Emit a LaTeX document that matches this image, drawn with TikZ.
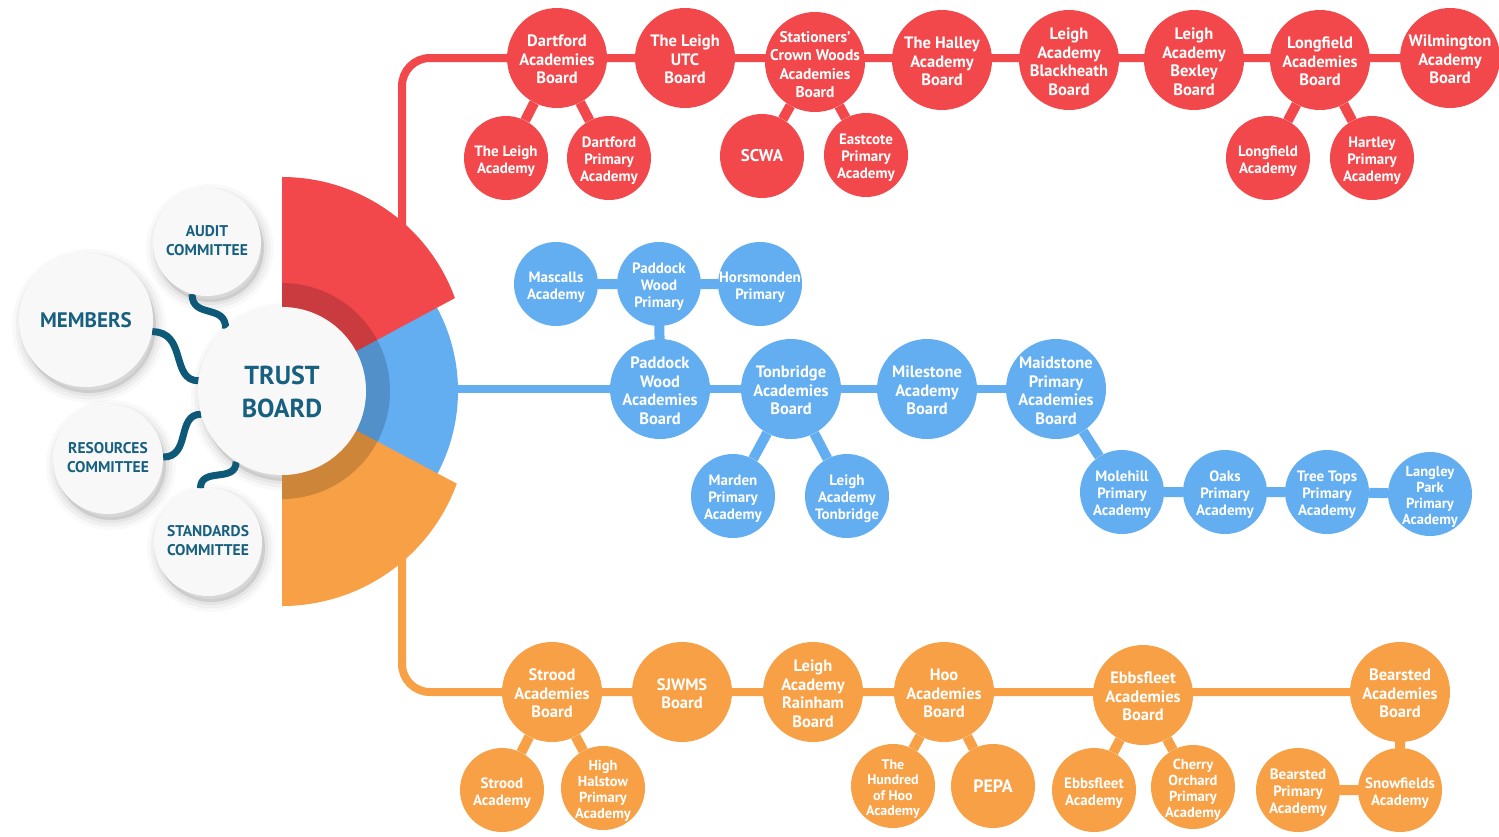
\documentclass[tikz,border=0pt]{standalone}
\usepackage{fontspec}
\setmainfont{PT Sans}
\usetikzlibrary{backgrounds}
\definecolor{cred}{HTML}{F2484B}
\definecolor{cblue}{HTML}{62AEF1}
\definecolor{corange}{HTML}{F7A046}
\definecolor{tealtext}{HTML}{17607F}
\definecolor{tealline}{HTML}{0E5878}
\definecolor{cwhite}{HTML}{F8F8F8}
\newcommand\clab[2][8pt]{\makebox[0pt]{\raisebox{-#1}[0pt][0pt]{\begin{tabular}{@{}c@{}}#2\end{tabular}}}}
\newcommand\cclab[1]{\makebox[0pt]{\begin{tabular}{@{}c@{}}#1\end{tabular}}}
\newcommand\softshadow[2]{%
  \foreach \w/\o in {20/0.025,13/0.035,6/0.045}{\draw[line width=\w, black, opacity=\o] ([shift={(3,6)}]#1.center) circle (#2);}
  \fill[black, opacity=0.10] ([shift={(3,6)}]#1.center) circle (#2);}
\begin{document}
\begin{tikzpicture}[x=1pt,y=-1pt,
  big/.style={circle, inner sep=0pt, minimum size=100, text=white, font=\bfseries\fontsize{16.5}{18.5}\selectfont},
  small/.style={circle, inner sep=0pt, minimum size=84, text=white, font=\bfseries\fontsize{15}{17}\selectfont},
  tiny/.style={circle, inner sep=0pt, minimum size=84, text=white, font=\bfseries\fontsize{14.5}{16}\selectfont},
  rn/.style={fill=cred}, bn/.style={fill=cblue}, on/.style={fill=corange},
  trunk/.style={line width=8},
  link/.style={line width=10},
  committee/.style={circle, inner sep=0pt, fill=cwhite, text=tealtext, font=\bfseries\fontsize{15.5}{19.5}\selectfont},
  wave/.style={line width=7, tealline}
]
\useasboundingbox (0,0) rectangle (1499,836);
% sectors
\fill[cblue] (282,391) -- ++(-32:176) arc[start angle=-32, end angle=34, radius=176] -- cycle;
\fill[cred] (282,391) -- (282,177) arc[start angle=-90, end angle=-20, radius=184] -- cycle;
\fill[corange] (282,391) -- (282,606) arc[start angle=90, end angle=20, radius=186] -- cycle;
\fill[black, opacity=0.17] (282,283) arc[start angle=-90, end angle=90, radius=108] -- (282,475) arc[start angle=90, end angle=-90, radius=84] -- cycle;

% committees
\node[committee, minimum size=134, font=\bfseries\fontsize{21}{24}\selectfont] (mem) at (86,320) {MEMBERS};
\node[committee, minimum size=108] (aud) at (207,242) {\cclab{AUDIT\\COMMITTEE}};
\node[committee, minimum size=110] (res) at (108,459) {\cclab{RESOURCES\\COMMITTEE}};
\node[committee, minimum size=108] (std) at (208,542) {\cclab{STANDARDS\\COMMITTEE}};
\node[committee, minimum size=168, font=\bfseries\fontsize{26}{33}\selectfont] (tb) at (282,391) {\clab[10pt]{TRUST\\BOARD}};

% red
\node[big, rn] (dab) at (557,58) {\clab{Dartford\\Academies\\Board}};
\node[big, rn] (tlu) at (685,58) {\clab{The Leigh\\UTC\\Board}};
\node[big, rn, font=\bfseries\fontsize{15.5}{18.5}\selectfont] (scw) at (815,62) {\clab{Stationers’\\Crown Woods\\Academies\\Board}};
\node[big, rn] (thab) at (942,60) {\clab{The Halley\\Academy\\Board}};
\node[big, rn] (lab) at (1069,60) {\clab{Leigh\\Academy\\Blackheath\\Board}};
\node[big, rn] (lbx) at (1194,60) {\clab{Leigh\\Academy\\Bexley\\Board}};
\node[big, rn] (lfb) at (1320,60) {\clab{Longfield\\Academies\\Board}};
\node[big, rn] (wab) at (1450,58) {\clab{Wilmington\\Academy\\Board}};
\node[small, rn] (tla) at (506,158) {\clab[7pt]{The Leigh\\Academy}};
\node[small, rn] (dpa) at (609,158) {\clab[7pt]{Dartford\\Primary\\Academy}};
\node[small, rn, font=\bfseries\fontsize{17}{19}\selectfont] (scwa) at (762,156) {SCWA};
\node[small, rn] (eca) at (866,155) {\clab[7pt]{Eastcote\\Primary\\Academy}};
\node[small, rn] (lfa) at (1268,158) {\clab[7pt]{Longfield\\Academy}};
\node[small, rn] (hpa) at (1372,158) {\clab[7pt]{Hartley\\Primary\\Academy}};

% blue
\node[small, bn] (mas) at (556,284) {\clab[7pt]{Mascalls\\Academy}};
\node[small, bn] (pwp) at (659,284) {\clab[7pt]{Paddock\\Wood\\Primary}};
\node[small, bn] (hor) at (760,284) {\clab[7pt]{Horsmonden\\Primary}};
\node[big, bn] (pwab) at (660,389) {\clab{Paddock\\Wood\\Academies\\Board}};
\node[big, bn] (tab) at (791,389) {\clab{Tonbridge\\Academies\\Board}};
\node[big, bn] (msb) at (927,389) {\clab{Milestone\\Academy\\Board}};
\node[big, bn] (mpab) at (1056,389) {\clab{Maidstone\\Primary\\Academies\\Board}};
\node[small, bn] (mar) at (733,496) {\clab[7pt]{Marden\\Primary\\Academy}};
\node[small, bn] (lat) at (847,496) {\clab[7pt]{Leigh\\Academy\\Tonbridge}};
\node[small, bn] (mol) at (1122,492) {\clab[7pt]{Molehill\\Primary\\Academy}};
\node[small, bn] (oak) at (1225,492) {\clab[7pt]{Oaks\\Primary\\Academy}};
\node[small, bn] (ttp) at (1327,492) {\clab[7pt]{Tree Tops\\Primary\\Academy}};
\node[tiny, bn] (lpp) at (1430,494) {\clab[7pt]{Langley\\Park\\Primary\\Academy}};

% orange
\node[big, on] (sab) at (552,692) {\clab{Strood\\Academies\\Board}};
\node[big, on] (sjw) at (682,692) {\clab{SJWMS\\Board}};
\node[big, on] (lar) at (813,692) {\clab{Leigh\\Academy\\Rainham\\Board}};
\node[big, on] (hab) at (944,692) {\clab{Hoo\\Academies\\Board}};
\node[big, on] (eab) at (1143,695) {\clab{Ebbsfleet\\Academies\\Board}};
\node[big, on] (bab) at (1400,692) {\clab{Bearsted\\Academies\\Board}};
\node[small, on] (sa) at (502,790) {\clab[7pt]{Strood\\Academy}};
\node[tiny, on] (hh) at (603,788) {\clab[7pt]{High\\Halstow\\Primary\\Academy}};
\node[tiny, on, font=\bfseries\fontsize{14}{15.5}\selectfont] (hoo) at (893,786) {\clab[7pt]{The\\Hundred\\of Hoo\\Academy}};
\node[small, on, font=\bfseries\fontsize{18}{20}\selectfont] (pep) at (993,786) {PEPA};
\node[small, on] (ea) at (1094,790) {\clab[7pt]{Ebbsfleet\\Academy}};
\node[tiny, on] (coa) at (1193,787) {\clab[7pt]{Cherry\\Orchard\\Primary\\Academy}};
\node[small, on] (bpa) at (1298,790) {\clab[7pt]{Bearsted\\Primary\\Academy}};
\node[small, on] (sfa) at (1400,790) {\clab[7pt]{Snowfields\\Academy}};

\begin{scope}[on background layer]
  \fill[white] (0,0) rectangle (1499,836);
  \softshadow{mem}{67}
  \softshadow{aud}{54}
  \softshadow{res}{55}
  \softshadow{std}{54}
  \softshadow{tb}{84}
  % waves
  \draw[wave] (aud.254) .. controls +(0,25) and +(0,-25) .. (tb.132);
  \draw[wave] (mem.-10) .. controls +(35,0) and +(-28,0) .. (tb.173);
  \draw[wave] (res.2) .. controls +(28,0) and +(-25,0) .. (tb.196);
  \draw[wave] (std.98) .. controls +(0,-22) and +(0,22) .. (tb.237);
  % trunks
  \coordinate (rs) at (402,240);
  \coordinate (bs) at (420,389);
  \coordinate (os) at (402,540);
  \draw[trunk, cred, rounded corners=28] (rs) |- (wab);
  \draw[trunk, cblue] (bs) -- (mpab);
  \draw[trunk, corange, rounded corners=28] (os) |- (bab);
  % red links
  \draw[link, cred] (dab) -- (tla) (dab) -- (dpa) (scw) -- (scwa) (scw) -- (eca) (lfb) -- (lfa) (lfb) -- (hpa);
  % blue links
  \draw[link, cblue] (mas) -- (pwp) -- (hor) (pwp) -- (pwab) (tab) -- (mar) (tab) -- (lat) (mpab) -- (mol) -- (oak) -- (ttp) -- (lpp);
  % orange links
  \draw[link, corange] (sab) -- (sa) (sab) -- (hh) (hab) -- (hoo) (hab) -- (pep) (eab) -- (ea) (eab) -- (coa) (bab) -- (sfa) -- (bpa);
\end{scope}
\end{tikzpicture}
\end{document}
